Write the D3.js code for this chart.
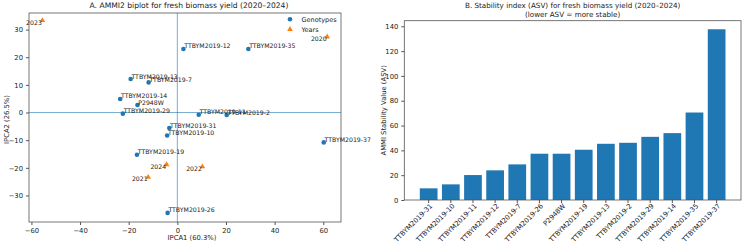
<!DOCTYPE html>
<html>
<head>
<meta charset="utf-8">
<script src="https://cdn.jsdelivr.net/npm/d3@7"></script>
<style>
  body { margin: 0; background: #fff; }
  text { font-family: "DejaVu Sans", sans-serif; fill: #222; }
</style>
</head>
<body>
<div id="chart"></div>
<script>

//Genotype scores (IPCA1, IPCA2)
var genoNames = ["TTBYM2019-12", "TTBYM2019-35", "TTBYM2019-13", "TTBYM2019-7", "TTBYM2019-14", "P2948W", "TTBYM2019-29",
                 "TTBYM2019-11", "TTBYM2019-2", "TTBYM2019-31", "TTBYM2019-10", "TTBYM2019-37", "TTBYM2019-19", "TTBYM2019-26"];
var genoIPCA1 = [2.5, 29.2, -19.2, -11.8, -23.5, -16.4, -22.4, 8.8, 20.3, -3.3, -4.2, 60.2, -16.6, -4.0];
var genoIPCA2 = [23.0, 23.0, 12.1, 10.9, 4.9, 2.7, -0.4, -0.8, -0.9, -5.6, -8.3, -10.8, -15.3, -36.3];

//Year scores
var years = ["2023", "2020", "2024", "2022", "2021"];
var yearIPCA1 = [-55.5, 61.6, -4.4, 10.3, -12.0];
var yearIPCA2 = [33.3, 27.4, -18.8, -19.6, -23.4];

//ASV values, sorted
var asvNames = ["TTBYM2019-31", "TTBYM2019-10", "TTBYM2019-11", "TTBYM2019-12", "TTBYM2019-7", "TTBYM2019-26", "P2948W",
                "TTBYM2019-19", "TTBYM2019-13", "TTBYM2019-2", "TTBYM2019-29", "TTBYM2019-14", "TTBYM2019-35", "TTBYM2019-37"];
var asvValues = [9.4, 12.6, 20.1, 23.9, 28.7, 37.3, 37.3, 40.5, 45.3, 46.1, 50.9, 53.9, 70.5, 137.6];

var xTicksA = [-60, -40, -20, 0, 20, 40, 60];
var yTicksA = [-30, -20, -10, 0, 10, 20, 30];
var yTicksB = [0, 20, 40, 60, 80, 100, 120, 140];

var w = 743;
var h = 243;
var blue = "#1f77b4";
var orange = "#ff7f0e";
var fs = 6.8;

var svg = d3.select("#chart")
    .append("svg")
    .attr("width", w)
    .attr("height", h);

var minus = function(v) { return String(v).replace("-", "\u2212"); };

//---------- Panel A: biplot ----------
var a = {left: 29, right: 341, top: 13, bottom: 222};

var xA = d3.scaleLinear().domain([-61, 67.3]).range([a.left, a.right]);
var yA = d3.scaleLinear().domain([-39.6, 36]).range([a.bottom, a.top]);

var gA = svg.append("g");

gA.append("g")
    .attr("transform", "translate(0," + a.bottom + ")")
    .call(d3.axisBottom(xA).tickValues(xTicksA).tickSize(3).tickFormat(minus));

gA.append("g")
    .attr("transform", "translate(" + a.left + ",0)")
    .call(d3.axisLeft(yA).tickValues(yTicksA).tickSize(3).tickFormat(minus));

//Reference lines at zero
gA.append("line")
    .attr("x1", xA(0)).attr("x2", xA(0))
    .attr("y1", a.top).attr("y2", a.bottom)
    .attr("stroke", blue).attr("stroke-width", 0.8).attr("opacity", 0.75);

gA.append("line")
    .attr("x1", a.left).attr("x2", a.right)
    .attr("y1", yA(0)).attr("y2", yA(0))
    .attr("stroke", blue).attr("stroke-width", 0.8).attr("opacity", 0.75);

//Frame
gA.append("rect")
    .attr("x", a.left).attr("y", a.top)
    .attr("width", a.right - a.left).attr("height", a.bottom - a.top)
    .attr("fill", "none").attr("stroke", "#555").attr("stroke-width", 0.8);

//Genotype points
gA.selectAll(".geno")
    .data(genoNames)
    .enter()
    .append("circle")
    .attr("cx", (d, i) => xA(genoIPCA1[i]))
    .attr("cy", (d, i) => yA(genoIPCA2[i]))
    .attr("r", 2.3)
    .attr("fill", blue);

gA.selectAll(".genoLabel")
    .data(genoNames)
    .enter()
    .append("text")
    .attr("x", (d, i) => xA(genoIPCA1[i]) + 0.8)
    .attr("y", (d, i) => yA(genoIPCA2[i]) - 0.5)
    .style("font-size", "6.2px")
    .text(d => d);

//Year points
var tri = d3.symbol().type(d3.symbolTriangle).size(14);

gA.selectAll(".year")
    .data(years)
    .enter()
    .append("path")
    .attr("d", tri)
    .attr("transform", (d, i) => "translate(" + xA(yearIPCA1[i]) + "," + yA(yearIPCA2[i]) + ")")
    .attr("fill", orange);

gA.selectAll(".yearLabel")
    .data(years)
    .enter()
    .append("text")
    .attr("x", (d, i) => xA(yearIPCA1[i]) - 0.5)
    .attr("y", (d, i) => yA(yearIPCA2[i]) + 4.2)
    .attr("text-anchor", "end")
    .style("font-size", "6.2px")
    .text(d => d);

//Legend
var legend = gA.append("g");
legend.append("circle").attr("cx", 290).attr("cy", 19.3).attr("r", 2.3).attr("fill", blue);
legend.append("path").attr("d", tri).attr("transform", "translate(290,29.3)").attr("fill", orange);
legend.append("text").attr("x", 301.5).attr("y", 21.6).style("font-size", "6.5px").text("Genotypes");
legend.append("text").attr("x", 301.5).attr("y", 31.6).style("font-size", "6.5px").text("Years");

//Titles and labels
gA.append("text")
    .attr("x", (a.left + a.right) / 2 + 4).attr("y", 7.5)
    .attr("text-anchor", "middle")
    .style("font-size", "7.6px")
    .text("A. AMMI2 biplot for fresh biomass yield (2020\u20132024)");

gA.append("text")
    .attr("x", (a.left + a.right) / 2 + 7).attr("y", 240)
    .attr("text-anchor", "middle")
    .style("font-size", fs + "px")
    .text("IPCA1 (60.3%)");

gA.append("text")
    .attr("transform", "translate(8.5," + ((a.top + a.bottom) / 2 + 2) + ") rotate(-90)")
    .attr("text-anchor", "middle")
    .style("font-size", fs + "px")
    .text("IPCA2 (26.5%)");

//---------- Panel B: ASV bars ----------
var b = {left: 404.3, right: 741, top: 20.7, bottom: 200};

var xB = d3.scaleBand()
    .domain(asvNames)
    .range([b.left, b.right])
    .paddingInner(0.2)
    .paddingOuter(0.7);

var yB = d3.scaleLinear().domain([0, 144.5]).range([b.bottom, b.top]);

var gB = svg.append("g");

gB.selectAll(".bar")
    .data(asvNames)
    .enter()
    .append("rect")
    .attr("x", d => xB(d))
    .attr("y", (d, i) => yB(asvValues[i]))
    .attr("width", xB.bandwidth())
    .attr("height", (d, i) => yB(0) - yB(asvValues[i]))
    .attr("fill", blue);

gB.append("g")
    .attr("transform", "translate(" + b.left + ",0)")
    .call(d3.axisLeft(yB).tickValues(yTicksB).tickSize(3));

var xAxisB = gB.append("g")
    .attr("transform", "translate(0," + b.bottom + ")")
    .call(d3.axisBottom(xB).tickSize(3));

xAxisB.selectAll("text")
    .attr("text-anchor", "end")
    .attr("dy", null)
    .attr("y", 5)
    .attr("x", 2)
    .attr("transform", "rotate(-45 0 5) translate(0 4)");

gB.append("rect")
    .attr("x", b.left).attr("y", b.top)
    .attr("width", b.right - b.left).attr("height", b.bottom - b.top)
    .attr("fill", "none").attr("stroke", "#555").attr("stroke-width", 0.8);

gB.append("text")
    .attr("x", (b.left + b.right) / 2).attr("y", 8)
    .attr("text-anchor", "middle")
    .style("font-size", "7.2px")
    .text("B. Stability index (ASV) for fresh biomass yield (2020\u20132024)");

gB.append("text")
    .attr("x", (b.left + b.right) / 2).attr("y", 17)
    .attr("text-anchor", "middle")
    .style("font-size", "7.2px")
    .text("(lower ASV = more stable)");

gB.append("text")
    .attr("transform", "translate(385.5," + ((b.top + b.bottom) / 2) + ") rotate(-90)")
    .attr("text-anchor", "middle")
    .style("font-size", fs + "px")
    .text("AMMI Stability Value (ASV)");

//Axis styling
svg.selectAll(".tick text").style("font-size", fs + "px").style("font-family", "DejaVu Sans").attr("fill", "#222");
svg.selectAll(".tick line").attr("stroke", "#555");
svg.selectAll(".domain").attr("stroke", "none");

</script>
</body>
</html>
